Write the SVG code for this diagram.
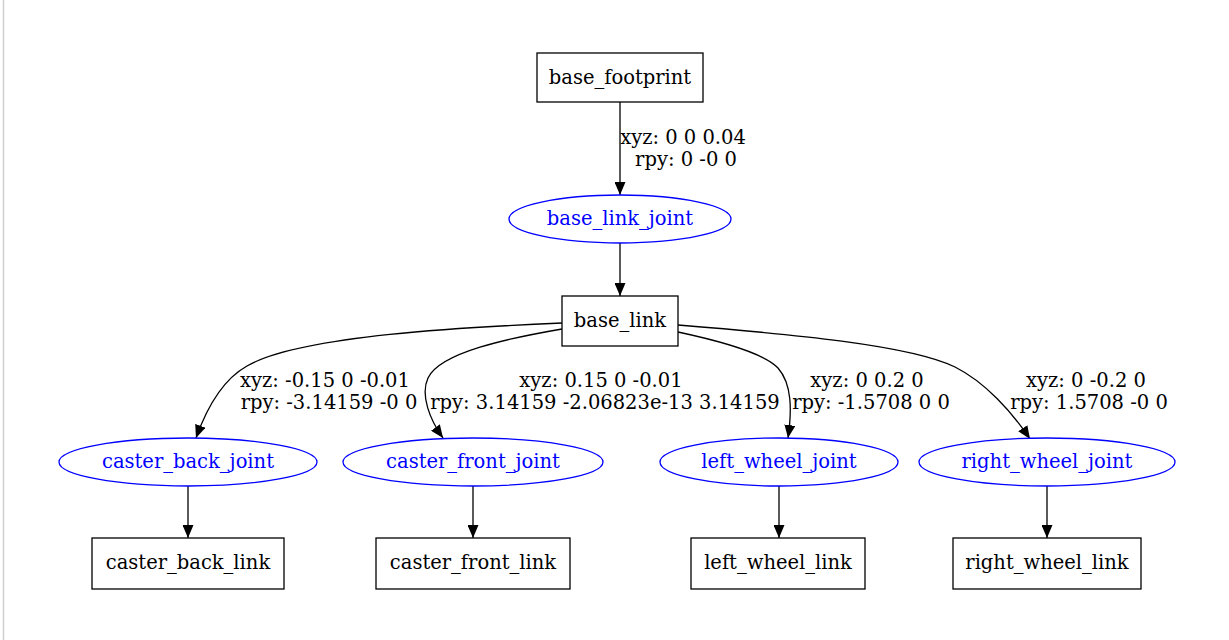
<svg xmlns="http://www.w3.org/2000/svg" width="1229" height="640" viewBox="0 0 1229 640">
<style>
  .box{fill:#fff;stroke:#000;stroke-width:1.3}
  .ell{fill:#fff;stroke:#0000ff;stroke-width:1.3}
  .t{font-family:"DejaVu Serif","Liberation Serif",serif;font-size:19.5px;text-anchor:middle;fill:#000}
  .tb{fill:#0000ff}
  .e{fill:none;stroke:#000;stroke-width:1.3;marker-end:url(#arr)}
</style>
<defs>
  <marker id="arr" viewBox="0 0 13 11" refX="13" refY="5.5" markerWidth="13" markerHeight="11" markerUnits="userSpaceOnUse" orient="auto">
    <path d="M0,0 L13,5.5 L0,11 z" fill="#000"/>
  </marker>
</defs>
<rect x="0" y="0" width="1229" height="640" fill="#fff"/>
<line x1="3.5" y1="0" x2="3.5" y2="640" stroke="#d0d0d0" stroke-width="1.5"/>

<g id="connectors">
  <path class="e" d="M620,102 L620,195"/>
  <path class="e" d="M620,243 L620,296"/>
  <path class="e" d="M562,323 C470,327 300,335 247,366 C222,380 206,410 196,438"/>
  <path class="e" d="M562,329 C510,338 440,352 428,378 C420,395 430,420 443,438"/>
  <path class="e" d="M678,332 C720,341 765,354 778,368 C792,384 792,410 788,438"/>
  <path class="e" d="M678,325 C790,334 910,345 955,367 C985,382 1012,412 1030,439"/>
  <path class="e" d="M188,486 L188,538"/>
  <path class="e" d="M473,486 L473,538"/>
  <path class="e" d="M779,486 L779,538"/>
  <path class="e" d="M1047,486 L1047,538"/>
  <g id="edge-labels">
    <text class="t" x="683" y="144">xyz: 0 0 0.04</text>
    <text class="t" x="686" y="166">rpy: 0 -0 0</text>
    <text class="t" x="325" y="387">xyz: -0.15 0 -0.01</text>
    <text class="t" x="329" y="409">rpy: -3.14159 -0 0</text>
    <text class="t" x="601" y="387">xyz: 0.15 0 -0.01</text>
    <text class="t" x="605" y="409">rpy: 3.14159 -2.06823e-13 3.14159</text>
    <text class="t" x="867" y="387">xyz: 0 0.2 0</text>
    <text class="t" x="871" y="409">rpy: -1.5708 0 0</text>
    <text class="t" x="1086" y="387">xyz: 0 -0.2 0</text>
    <text class="t" x="1089" y="409">rpy: 1.5708 -0 0</text>
  </g>
</g>

<g id="base_footprint"><rect class="box" x="537" y="53" width="166" height="49"/><text class="t" x="620" y="84">base_footprint</text></g>
<g id="base_link_joint"><ellipse class="ell" cx="620" cy="219" rx="111" ry="24"/><text class="t tb" x="620" y="225">base_link_joint</text></g>
<g id="base_link"><rect class="box" x="562" y="296" width="116" height="50"/><text class="t" x="620" y="327">base_link</text></g>

<g id="caster_back_joint"><ellipse class="ell" cx="188" cy="462" rx="129" ry="24"/><text class="t tb" x="188" y="468">caster_back_joint</text></g>
<g id="caster_front_joint"><ellipse class="ell" cx="473" cy="462" rx="130" ry="24"/><text class="t tb" x="473" y="468">caster_front_joint</text></g>
<g id="left_wheel_joint"><ellipse class="ell" cx="779" cy="462" rx="119" ry="24"/><text class="t tb" x="779" y="468">left_wheel_joint</text></g>
<g id="right_wheel_joint"><ellipse class="ell" cx="1047" cy="462" rx="128" ry="24"/><text class="t tb" x="1047" y="468">right_wheel_joint</text></g>

<g id="caster_back_link"><rect class="box" x="92" y="538" width="192" height="51"/><text class="t" x="188" y="569">caster_back_link</text></g>
<g id="caster_front_link"><rect class="box" x="376" y="538" width="194" height="51"/><text class="t" x="473" y="569">caster_front_link</text></g>
<g id="left_wheel_link"><rect class="box" x="691" y="538" width="174" height="51"/><text class="t" x="778" y="569">left_wheel_link</text></g>
<g id="right_wheel_link"><rect class="box" x="953" y="538" width="188" height="51"/><text class="t" x="1047" y="569">right_wheel_link</text></g>
</svg>
